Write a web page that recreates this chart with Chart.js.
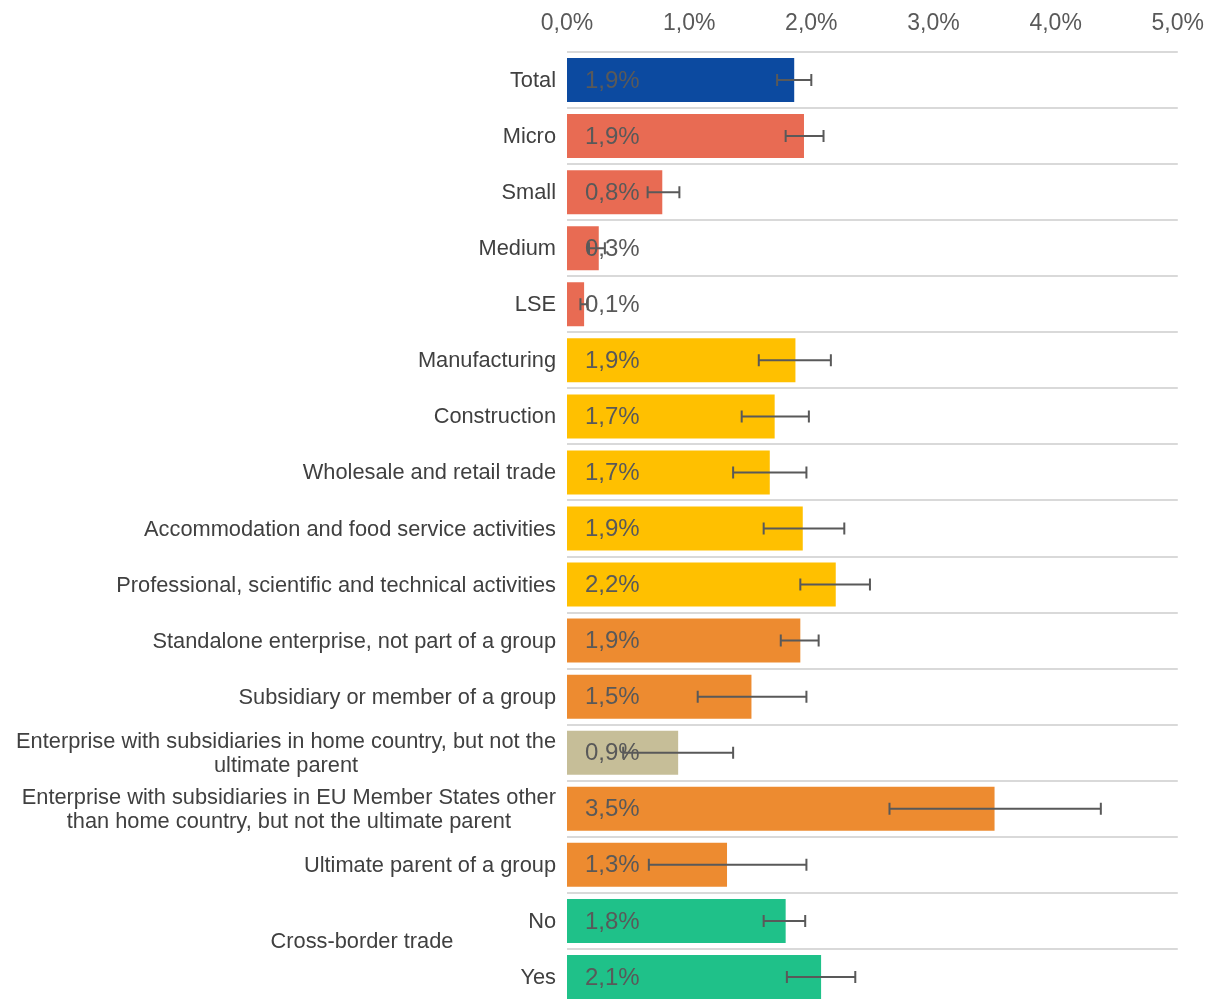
<!DOCTYPE html>
<html lang="en">

<head>
    <meta charset="UTF-8">
    <title>Share of enterprises by type</title>
    <script src="https://cdn.jsdelivr.net/npm/chart.js"></script>
    <style>
        body {
            margin: 0;
            padding: 0;
            background-color: #ffffff;
            overflow: hidden;
        }

        .chart-box {
            position: relative;
            width: 1211px;
            height: 1008px;
        }
    </style>
</head>

<body>
    <div class="chart-box">
        <canvas id="shareChart"></canvas>
    </div>

    <script>
        // Categories (multi-line ones as arrays of lines)
        const categories = [
            'Total',
            'Micro',
            'Small',
            'Medium',
            'LSE',
            'Manufacturing',
            'Construction',
            'Wholesale and retail trade',
            'Accommodation and food service activities',
            'Professional, scientific and technical activities',
            'Standalone enterprise, not part of a group',
            'Subsidiary or member of a group',
            ['Enterprise with subsidiaries in home country, but not the', 'ultimate parent'],
            ['Enterprise with subsidiaries in EU Member States other', 'than home country, but not the ultimate parent'],
            'Ultimate parent of a group',
            'No',
            'Yes'
        ];

        // Share (%) and confidence interval bounds (%)
        const shares = [1.86, 1.94, 0.78, 0.26, 0.14, 1.87, 1.70, 1.66, 1.93, 2.20, 1.91, 1.51, 0.91, 3.50, 1.31, 1.79, 2.08];
        const lowerBounds = [1.72, 1.79, 0.66, 0.18, 0.11, 1.57, 1.43, 1.36, 1.61, 1.91, 1.75, 1.07, 0.46, 2.64, 0.67, 1.61, 1.80];
        const upperBounds = [2.00, 2.10, 0.92, 0.31, 0.17, 2.16, 1.98, 1.96, 2.27, 2.48, 2.06, 1.96, 1.36, 4.37, 1.96, 1.95, 2.36];

        const xTicks = [0, 1, 2, 3, 4, 5];

        // Group label spanning the last two rows
        const groupLabel = 'Cross-border trade';
        const groupRows = [15, 16];

        const barColors = [
            '#0c4aa0',
            '#e86b53', '#e86b53', '#e86b53', '#e86b53',
            '#ffc000', '#ffc000', '#ffc000', '#ffc000', '#ffc000',
            '#ed8b30', '#ed8b30', '#c6be98', '#ed8b30', '#ed8b30',
            '#1fc189', '#1fc189'
        ];

        const FONT = '"Liberation Sans", Arial, sans-serif';
        const fmt = v => v.toFixed(1).replace('.', ',') + '%';

        // Category labels: right-aligned blocks, wrapped lines centred within the block
        const categoryLabels = {
            id: 'categoryLabels',
            afterDraw(chart) {
                const { ctx, chartArea, scales } = chart;
                const y = scales.y;
                const right = chartArea.left - 11;
                const lineH = 24;
                ctx.save();
                ctx.font = '21.8px ' + FONT;
                ctx.fillStyle = '#404040';
                ctx.textBaseline = 'middle';
                ctx.textAlign = 'center';
                categories.forEach((cat, i) => {
                    const lines = Array.isArray(cat) ? cat : [cat];
                    const widest = Math.max(...lines.map(l => ctx.measureText(l).width));
                    const cx = right - widest / 2;
                    const cy = y.getPixelForValue(i) + 1;
                    lines.forEach((line, k) => {
                        ctx.fillText(line, cx, cy + (k - (lines.length - 1) / 2) * lineH);
                    });
                });
                // group caption between "No" and "Yes"
                const gy = (y.getPixelForValue(groupRows[0]) + y.getPixelForValue(groupRows[1])) / 2 - 7;
                ctx.fillText(groupLabel, 362, gy);
                ctx.restore();
            }
        };

        // Value labels inside the bars plus error bars
        const valuesAndErrors = {
            id: 'valuesAndErrors',
            afterDatasetsDraw(chart) {
                const { ctx, chartArea, scales } = chart;
                const x = scales.x, y = scales.y;
                ctx.save();
                ctx.font = '24px ' + FONT;
                ctx.fillStyle = '#595959';
                ctx.textBaseline = 'middle';
                ctx.textAlign = 'left';
                shares.forEach((v, i) => {
                    ctx.fillText(fmt(v), chartArea.left + 18, y.getPixelForValue(i) + 1);
                });

                ctx.strokeStyle = '#595959';
                ctx.lineWidth = 2;
                shares.forEach((v, i) => {
                    const cy = y.getPixelForValue(i);
                    const x0 = x.getPixelForValue(lowerBounds[i]);
                    const x1 = x.getPixelForValue(upperBounds[i]);
                    ctx.beginPath();
                    ctx.moveTo(x0, cy);
                    ctx.lineTo(x1, cy);
                    ctx.moveTo(x0, cy - 6);
                    ctx.lineTo(x0, cy + 6);
                    ctx.moveTo(x1, cy - 6);
                    ctx.lineTo(x1, cy + 6);
                    ctx.stroke();
                });
                ctx.restore();
            }
        };

        const ctx = document.getElementById('shareChart').getContext('2d');
        const chart = new Chart(ctx, {
            type: 'bar',
            data: {
                labels: categories,
                datasets: [{
                    data: shares,
                    backgroundColor: barColors,
                    borderWidth: 0,
                    categoryPercentage: 1,
                    barPercentage: 0.785
                }]
            },
            options: {
                indexAxis: 'y',
                responsive: true,
                maintainAspectRatio: false,
                animation: false,
                layout: {
                    padding: { left: 0, right: 26, top: 0, bottom: 3 }
                },
                plugins: {
                    legend: { display: false },
                    tooltip: { enabled: false }
                },
                scales: {
                    x: {
                        position: 'top',
                        min: 0,
                        max: 5,
                        afterFit: scale => { scale.height = 52; },
                        afterBuildTicks: scale => {
                            scale.ticks = xTicks.map(v => ({ value: v }));
                        },
                        grid: { display: false },
                        border: { display: false },
                        ticks: {
                            padding: 7,
                            color: '#595959',
                            font: { family: FONT, size: 23 },
                            callback: v => fmt(v)
                        }
                    },
                    y: {
                        afterFit: scale => { scale.width = 567; },
                        grid: {
                            color: '#d9d9d9',
                            lineWidth: 2,
                            drawTicks: false,
                            offset: true
                        },
                        border: { display: false },
                        ticks: { display: false }
                    }
                }
            },
            plugins: [categoryLabels, valuesAndErrors]
        });
    </script>

</body>

</html>
